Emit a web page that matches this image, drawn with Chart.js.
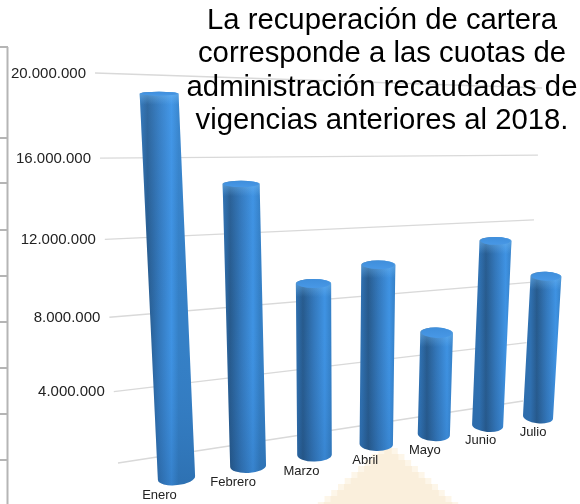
<!DOCTYPE html>
<html lang="es">
<head>
<meta charset="utf-8">
<title>Recuperación de cartera</title>
<script src="https://cdn.jsdelivr.net/npm/chart.js@4/dist/chart.umd.min.js"></script>
<style>
  html, body { margin: 0; padding: 0; background: #fff; }
  canvas { display: block; }
</style>
</head>
<body>
<canvas id="cartera-chart" width="580" height="504"></canvas>
<script>
const months = ['Enero', 'Febrero', 'Marzo', 'Abril', 'Mayo', 'Junio', 'Julio'];
const collected = [19600000, 15300000, 9900000, 10700000, 6400000, 11700000, 9300000];
const tickValues = [20000000, 16000000, 12000000, 8000000, 4000000, 0];
const tickLabels = ['20.000.000', '16.000.000', '12.000.000', '8.000.000', '4.000.000', ''];
const noteLines = [
  'La recuperación de cartera',
  'corresponde a las cuotas de',
  'administración recaudadas de',
  'vigencias anteriores al 2018.'
];

const FONT = '"Liberation Sans", Arial, sans-serif';

// Perspective map from the unit square (u along the months, v up the value axis)
function quadMap(bl, br, tr, tl) {
  const dx1 = br[0] - tr[0], dx2 = tl[0] - tr[0], sx = bl[0] - br[0] + tr[0] - tl[0];
  const dy1 = br[1] - tr[1], dy2 = tl[1] - tr[1], sy = bl[1] - br[1] + tr[1] - tl[1];
  const den = dx1 * dy2 - dx2 * dy1;
  const g = (sx * dy2 - dx2 * sy) / den;
  const h = (dx1 * sy - sx * dy1) / den;
  const a = br[0] - bl[0] + g * br[0], b = tl[0] - bl[0] + h * tl[0];
  const d = br[1] - bl[1] + g * br[1], e = tl[1] - bl[1] + h * tl[1];
  return (u, v) => {
    const w = g * u + h * v + 1;
    return [(a * u + b * v + bl[0]) / w, (d * u + e * v + bl[1]) / w];
  };
}

const wallPlane = quadMap([118, 463], [523, 401], [542, 88], [95, 73]);
const barPlane = quadMap([176.5, 478], [538, 417], [556, 100], [158.7, 85]);

function flatCoords(chart, px, py) {
  const x = chart.scales.x, y = chart.scales.y;
  const x0 = x.getPixelForValue(0), x1 = x.getPixelForValue(months.length - 1);
  const y0 = y.getPixelForValue(0), y1 = y.getPixelForValue(y.max);
  return [(px - x0) / (x1 - x0), (y0 - py) / (y0 - y1)];
}

function drawBackdrop(ctx) {
  // stepped pale shape behind the Abril label
  const cx = 388, apex = 448, step = 6;
  for (let y = apex; y < 504; y += step) {
    const half = (y - apex + step) * 1.12;
    ctx.fillStyle = '#fdf6e9';
    ctx.fillRect(cx - half - 3, y, (half + 3) * 2, step);
  }
  for (let y = apex; y < 504; y += step) {
    const half = (y - apex + step) * 1.12 - 3;
    ctx.fillStyle = '#faefdc';
    ctx.fillRect(cx - half, y, half * 2, step);
  }

  // grey frame down the left edge
  ctx.strokeStyle = '#b5b5b5';
  ctx.lineWidth = 2;
  ctx.beginPath();
  ctx.moveTo(7.5, 47);
  ctx.lineTo(7.5, 504);
  [47, 138, 183, 230, 276, 322, 368, 414, 460].forEach(y => {
    ctx.moveTo(0, y);
    ctx.lineTo(8, y);
  });
  ctx.stroke();
}

function drawWall(chart) {
  const { ctx } = chart;
  const y = chart.scales.y;
  tickValues.forEach((value, i) => {
    const v = flatCoords(chart, 0, y.getPixelForValue(value))[1];
    const from = wallPlane(0, v), to = wallPlane(1, v);
    ctx.strokeStyle = '#d9d9d9';
    ctx.lineWidth = 1.4;
    ctx.beginPath();
    ctx.moveTo(from[0], from[1]);
    ctx.lineTo(to[0], to[1]);
    ctx.stroke();

    ctx.fillStyle = '#222';
    ctx.font = '15px ' + FONT;
    ctx.textAlign = 'right';
    ctx.textBaseline = 'middle';
    ctx.fillText(tickLabels[i], from[0] - 9, from[1] + 0.5);
  });
}

function drawCylinder(ctx, u, v) {
  const base = barPlane(u, 0), top = barPlane(u, v), full = barPlane(u, 1);
  const height = Math.hypot(full[0] - base[0], full[1] - base[1]);
  const rBase = height * 0.0475;
  const rTop = rBase * (1 + 0.04 * v);
  // ellipses tilt away from the centre, more so the lower they sit
  const rotAt = y => (base[0] - 330) / 208 * 0.14 * Math.max(0, Math.min(1, (y - 230) / 240));
  const ryAt = y => 1.5 + (y - 60) * 0.0135;
  const ryTop = ryAt(top[1]), ryBase = ryAt(base[1]);
  const rotTop = rotAt(top[1]), rotBase = rotAt(base[1]);

  ctx.beginPath();
  ctx.ellipse(base[0], base[1], rBase, ryBase, rotBase, 0, Math.PI, false);
  ctx.ellipse(top[0], top[1], rTop, ryTop, rotTop, Math.PI, Math.PI * 2, false);
  ctx.closePath();

  const side = ctx.createLinearGradient(top[0] - rTop, 0, top[0] + rTop, 0);
  side.addColorStop(0, '#2f70b0');
  side.addColorStop(0.2, '#275a8c');
  side.addColorStop(0.5, '#3377ba');
  side.addColorStop(0.82, '#3f93e3');
  side.addColorStop(1, '#3580c6');
  ctx.fillStyle = side;
  ctx.fill();

  const shade = ctx.createLinearGradient(0, 90, 0, 480);
  shade.addColorStop(0, 'rgba(90,175,255,0.2)');
  shade.addColorStop(0.6, 'rgba(60,130,210,0)');
  shade.addColorStop(1, 'rgba(15,50,95,0.18)');
  ctx.fillStyle = shade;
  ctx.fill();

  // soft highlight where the side rolls over into the cap
  const roll = ctx.createLinearGradient(0, top[1], 0, top[1] + ryTop + 9);
  roll.addColorStop(0, 'rgba(125,195,250,0.45)');
  roll.addColorStop(1, 'rgba(125,195,250,0)');
  ctx.fillStyle = roll;
  ctx.fill();

  ctx.beginPath();
  ctx.ellipse(top[0], top[1], rTop - 1, ryTop, rotTop, 0, Math.PI * 2);
  const cap = ctx.createLinearGradient(0, top[1] - ryTop, 0, top[1] + ryTop);
  cap.addColorStop(0, '#3f8edb');
  cap.addColorStop(1, '#4898e6');
  ctx.fillStyle = cap;
  ctx.fill();
}

const perspectivePlugin = {
  id: 'perspective',
  beforeDraw(chart) {
    drawBackdrop(chart.ctx);
    drawWall(chart);
  },
  beforeDatasetDraw(chart, args) {
    const { ctx } = chart;
    const bars = chart.getDatasetMeta(args.index).data;
    bars.forEach((bar, i) => {
      const [u, v] = flatCoords(chart, bar.x, bar.y);
      drawCylinder(ctx, u, v);

      // month names run along a line in front of the bar feet
      const foot = barPlane(u, 0);
      ctx.fillStyle = '#222';
      ctx.font = '13px ' + FONT;
      ctx.textAlign = 'center';
      ctx.textBaseline = 'middle';
      ctx.fillText(months[i], foot[0] - 17 + 12 * u, foot[1] + 17 - 2 * u);
    });
    return false;
  },
  afterDraw(chart) {
    const { ctx } = chart;
    ctx.fillStyle = '#000';
    ctx.font = '29.3px ' + FONT;
    ctx.textAlign = 'center';
    ctx.textBaseline = 'alphabetic';
    [29, 62, 96, 129].forEach((y, i) => ctx.fillText(noteLines[i], 382, y));
  }
};

new Chart(document.getElementById('cartera-chart'), {
  type: 'bar',
  data: {
    labels: months,
    datasets: [{ label: 'Recuperación de cartera', data: collected, backgroundColor: '#3274b6' }]
  },
  options: {
    responsive: false,
    animation: false,
    plugins: { legend: { display: false }, title: { display: false }, tooltip: { enabled: false } },
    scales: {
      x: { display: false },
      y: { display: false, min: 0, max: 20000000 }
    }
  },
  plugins: [perspectivePlugin]
});
</script>
</body>
</html>
